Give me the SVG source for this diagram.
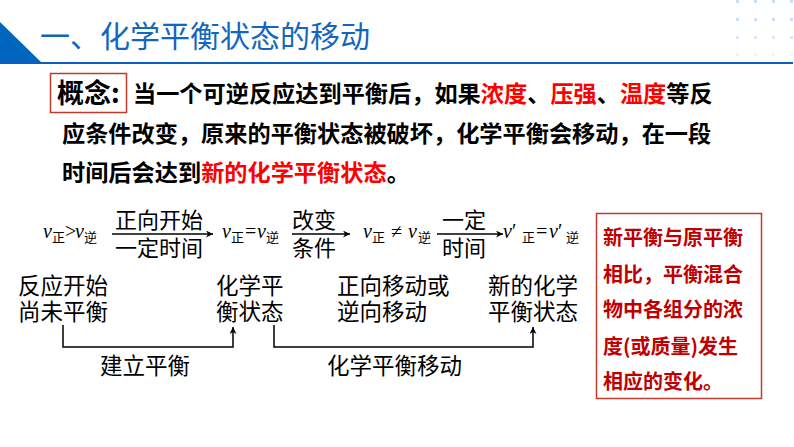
<svg xmlns="http://www.w3.org/2000/svg" width="794" height="447" viewBox="0 0 794 447">
<defs>
<style>
.title{font-family:"Noto Sans CJK SC","Noto Sans",sans-serif;font-size:30px;fill:#1366be;}
.body{font-family:"Noto Sans CJK SC","Noto Sans",sans-serif;font-size:23.2px;font-weight:700;fill:#000;}
.red{fill:#ff0000;}
.note{font-family:"Noto Sans CJK SC","Noto Sans",sans-serif;font-size:20px;font-weight:700;fill:#c00000;}
.lbl{font-family:"Noto Sans CJK SC","Noto Sans",sans-serif;font-size:22px;fill:#000;}
.lbl2{font-family:"Noto Sans CJK SC","Noto Sans",sans-serif;font-size:22.5px;fill:#000;}
.v{font-family:"Liberation Serif",serif;font-style:italic;font-size:20px;fill:#000;}
.op{font-family:"Liberation Serif",serif;font-size:20px;fill:#000;}
.sub{font-family:"Noto Sans CJK SC",sans-serif;font-size:13px;fill:#000;}
.ln{fill:none;stroke:#000;stroke-width:1.5;}
.dot{fill:#c9def2;}
</style>
<marker id="ah" viewBox="0 0 10 10" refX="10" refY="5" markerWidth="10" markerHeight="7" markerUnits="userSpaceOnUse" orient="auto">
<path d="M0,0 L10,5 L0,10 L3,5 z" fill="#000"/>
</marker>
</defs>
<rect width="794" height="447" fill="#fff"/>

<g id="header">
<polygon points="0,22 42,63 0,63" fill="#0065bd"/>
<rect x="0" y="62" width="793" height="2" fill="#0a5fbf"/>
<text class="title" x="40" y="47">一、化学平衡状态的移动</text>
<g id="dots">
<rect class="dot" x="736" y="0" width="3" height="3"/><rect class="dot" x="754" y="0" width="3" height="3"/><rect class="dot" x="772" y="0" width="3" height="3"/><rect class="dot" x="790" y="0" width="3" height="3"/>
<rect class="dot" x="736" y="18" width="3" height="3"/><rect class="dot" x="754" y="18" width="3" height="3"/><rect class="dot" x="772" y="18" width="3" height="3"/><rect class="dot" x="790" y="18" width="3" height="3"/>
<rect class="dot" x="736" y="36" width="3" height="3" opacity="0.7"/><rect class="dot" x="754" y="36" width="3" height="3" opacity="0.7"/><rect class="dot" x="772" y="36" width="3" height="3" opacity="0.7"/><rect class="dot" x="790" y="36" width="3" height="3" opacity="0.7"/>
<rect class="dot" x="736" y="53" width="3" height="3" opacity="0.3"/><rect class="dot" x="754" y="53" width="3" height="3" opacity="0.3"/><rect class="dot" x="772" y="53" width="3" height="3" opacity="0.3"/><rect class="dot" x="790" y="53" width="3" height="3" opacity="0.3"/>
</g>
</g>

<g id="concept">
<rect x="50.5" y="73.5" width="76" height="39" fill="none" stroke="#c0392b" stroke-width="1.5"/>
<text class="body" x="57" y="103" style="font-size:27px">概念:</text>
<text class="body" x="133" y="102">当一个可逆反应达到平衡后，如果<tspan class="red">浓度</tspan>、<tspan class="red">压强</tspan>、<tspan class="red">温度</tspan>等反</text>
<text class="body" x="62" y="142">应条件改变，原来的平衡状态被破坏，化学平衡会移动，在一段</text>
<text class="body" x="62" y="181">时间后会达到<tspan class="red">新的化学平衡状态</tspan>。</text>
</g>

<g id="state1">
<text x="43" y="238"><tspan class="v">v</tspan><tspan class="sub" x="52" y="242">正</tspan><tspan class="op" x="65" y="238">&gt;</tspan><tspan class="v" x="75" y="238">v</tspan><tspan class="sub" x="84" y="242">逆</tspan></text>
</g>
<g id="step1">
<text class="lbl" x="115" y="228">正向开始</text>
<text class="lbl" x="115" y="256">一定时间</text>
</g>
<g id="state2">
<text x="222" y="238"><tspan class="v">v</tspan><tspan class="sub" x="231" y="242">正</tspan><tspan class="op" x="245" y="238">=</tspan><tspan class="v" x="257" y="238">v</tspan><tspan class="sub" x="266" y="242">逆</tspan></text>
</g>
<g id="step2">
<text class="lbl" x="292" y="228">改变</text>
<text class="lbl" x="292" y="256">条件</text>
</g>
<g id="state3">
<text x="363" y="238"><tspan class="v">v</tspan><tspan class="sub" x="372" y="242">正</tspan><tspan class="op" x="391" y="238">≠</tspan><tspan class="v" x="408" y="238">v</tspan><tspan class="sub" x="418" y="242">逆</tspan></text>
</g>
<g id="step3">
<text class="lbl" x="442" y="228">一定</text>
<text class="lbl" x="442" y="256">时间</text>
</g>
<g id="state4">
<text x="503" y="238"><tspan class="v">v</tspan><tspan class="op" x="512" y="238">′</tspan><tspan class="sub" x="522" y="242">正</tspan><tspan class="op" x="536" y="238">=</tspan><tspan class="v" x="549" y="238">v</tspan><tspan class="op" x="558" y="238">′</tspan><tspan class="sub" x="566" y="242">逆</tspan></text>
</g>

<g id="desc1"><text class="lbl2" x="18" y="294">反应开始</text><text class="lbl2" x="18" y="320">尚未平衡</text></g>
<g id="desc2"><text class="lbl2" x="216" y="294">化学平</text><text class="lbl2" x="216" y="320">衡状态</text></g>
<g id="desc3"><text class="lbl2" x="337" y="294">正向移动或</text><text class="lbl2" x="337" y="320">逆向移动</text></g>
<g id="desc4"><text class="lbl2" x="488" y="294">新的化学</text><text class="lbl2" x="488" y="320">平衡状态</text></g>
<g id="phase1"><text class="lbl2" x="100" y="374">建立平衡</text></g>
<g id="phase2"><text class="lbl2" x="327" y="374">化学平衡移动</text></g>

<g id="connectors">
<line class="ln" x1="112" y1="234" x2="213" y2="234" marker-end="url(#ah)"/>
<line class="ln" x1="292" y1="234" x2="350" y2="234" marker-end="url(#ah)"/>
<line class="ln" x1="437" y1="234" x2="503" y2="234" marker-end="url(#ah)"/>
<path class="ln" d="M63,325 V347 H233 V327" marker-end="url(#ah)"/>
<path class="ln" d="M274,325 V347 H533 V327" marker-end="url(#ah)"/>
</g>

<g id="note">
<rect x="596.5" y="213.5" width="165" height="185" fill="none" stroke="#c0392b" stroke-width="1.5"/>
<text class="note" x="603" y="245">新平衡与原平衡</text>
<text class="note" x="603" y="282">相比，平衡混合</text>
<text class="note" x="603" y="317">物中各组分的浓</text>
<text class="note" x="603" y="354">度(或质量)发生</text>
<text class="note" x="603" y="389">相应的变化。</text>
</g>
</svg>
